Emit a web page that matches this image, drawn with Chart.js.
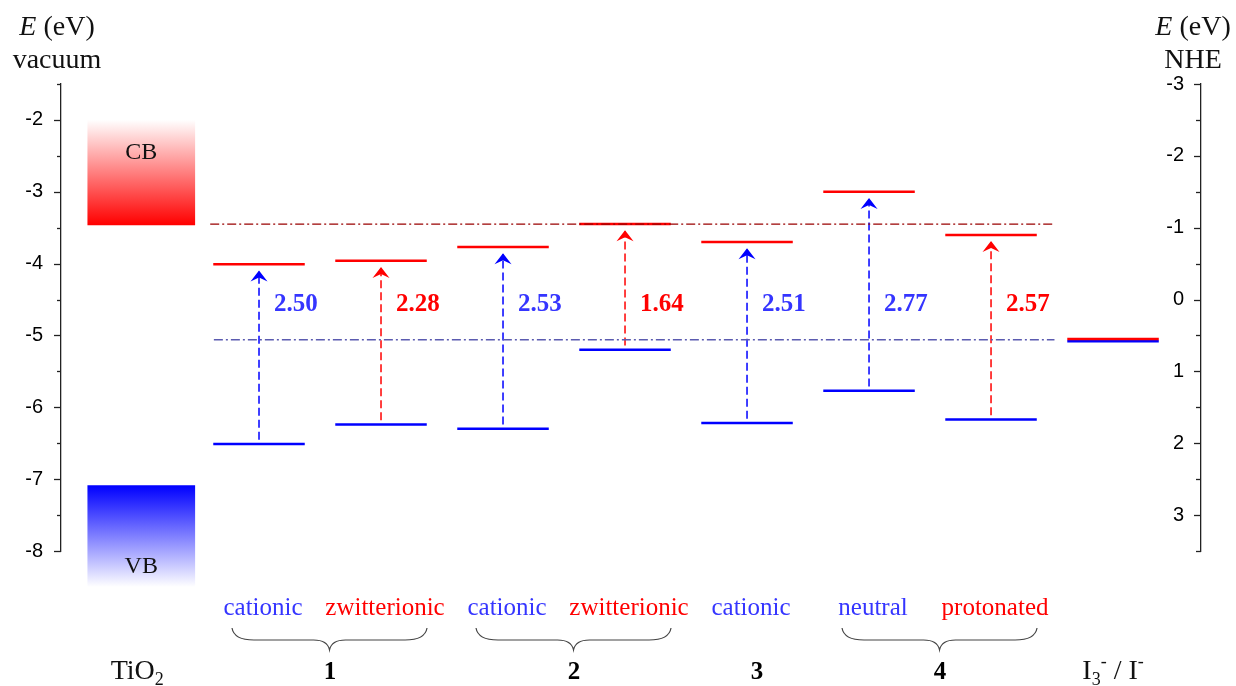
<!DOCTYPE html>
<html>
<head>
<meta charset="utf-8">
<title>Energy levels vs TiO2 and I3-/I-</title>
<script src="https://cdn.jsdelivr.net/npm/chart.js@4.4.1/dist/chart.umd.min.js"></script>
<style>
    html, body { margin: 0; padding: 0; background: #fff; }
    #wrap { position: relative; width: 1236px; height: 686px; }
</style>
</head>
<body>
<div id="wrap"><canvas id="levels-chart"></canvas></div>
<script>
// ---- datos (eV vs vacío) ----
const forms = ["cationic", "zwitterionic", "cationic", "zwitterionic", "cationic", "neutral", "protonated"];
const lumo = [-4.01, -3.96, -3.77, -3.45, -3.70, -3.00, -3.60];
const homo = [-6.51, -6.24, -6.30, -5.20, -6.22, -5.77, -6.17];
const gaps = ["2.50", "2.28", "2.53", "1.64", "2.51", "2.77", "2.57"];
const compounds = ["1", "2", "3", "4"];
const compoundMembers = [[0, 1], [2, 3], [4], [5, 6]];
const tio2CB = [-2.0, -3.46];
const tio2VB = [-7.09, -8.5];
const redoxRed = -5.05;
const redoxBlue = -5.08;
const cbEdgeLine = -3.45;
const redoxLine = -5.06;
const vacuumTicks = [-2, -3, -4, -5, -6, -7, -8];
const nheTicks = [-3, -2, -1, 0, 1, 2, 3];

// ---- estilos ----
const BLUE = "#0000ff";
const RED = "#ff0000";
const BLUE_TXT = "#3535ff";
const SERIF = "'Liberation Serif', 'Times New Roman', serif";
const SANS = "'Liberation Sans', Arial, sans-serif";
const HALF = 0.375;          // media anchura de un nivel (unidades de columna)
const X_MIN = -0.623, X_MAX = 8.721;
const TIO2_X = 0.035, REDOX_X = 8;
const ARROW_TOP = 0.1, ARROW_BOTTOM = 0.06;

const isBlue = f => f === "cationic" || f === "neutral";
const lineColor = f => isBlue(f) ? BLUE : RED;
const textColor = f => isBlue(f) ? BLUE_TXT : RED;

function levelPoints(values) {
    const pts = [];
    values.forEach((v, i) => {
        const x = i + 1;
        pts.push({ x: x - HALF, y: v }, { x: x + HALF, y: v }, { x: x + 0.5, y: null });
    });
    return pts;
}

function arrowPoints(blue) {
    const pts = [];
    forms.forEach((f, i) => {
        if (isBlue(f) !== blue) return;
        const x = i + 1;
        pts.push({ x: x, y: homo[i] + ARROW_BOTTOM }, { x: x, y: lumo[i] - ARROW_TOP }, { x: x + 0.1, y: null });
    });
    return pts;
}

function gradientFill(top, bottom, topColor, bottomColor) {
    return function (context) {
        const chart = context.chart;
        if (!chart.chartArea) return bottomColor;
        const y = chart.scales.y;
        const g = chart.ctx.createLinearGradient(0, y.getPixelForValue(top), 0, y.getPixelForValue(bottom));
        g.addColorStop(0, topColor);
        g.addColorStop(1, bottomColor);
        return g;
    };
}

const lineBase = { type: "line", pointRadius: 0, pointHoverRadius: 0, tension: 0, spanGaps: false, fill: false };

// ---- textos, flechas y marcas de los ejes ----
const annotations = {
    id: "levelAnnotations",
    afterDraw(chart) {
        const { ctx, chartArea: area, scales } = chart;
        const x = scales.x, y = scales.y, y2 = scales.y2;
        ctx.save();

        // marcas de los ejes (mayores y menores)
        ctx.strokeStyle = "#222";
        ctx.lineWidth = 1.3;
        const marks = (scale, axisX, values, len) => {
            values.forEach(v => {
                const py = Math.round(scale.getPixelForValue(v)) + 0.5;
                ctx.beginPath();
                ctx.moveTo(axisX - len, py);
                ctx.lineTo(axisX, py);
                ctx.stroke();
            });
        };
        marks(y, area.left, vacuumTicks, 7);
        marks(y, area.left, vacuumTicks.map(v => v + 0.5), 4);
        marks(y2, area.right, nheTicks, 7);
        marks(y2, area.right, nheTicks.map(v => v + 0.5), 5);

        // puntas de flecha
        forms.forEach((f, i) => {
            const px = x.getPixelForValue(i + 1);
            const py = y.getPixelForValue(lumo[i] - ARROW_TOP) - 1;
            ctx.fillStyle = lineColor(f);
            ctx.beginPath();
            ctx.moveTo(px, py);
            ctx.lineTo(px + 8.5, py + 11);
            ctx.lineTo(px, py + 7);
            ctx.lineTo(px - 8.5, py + 11);
            ctx.closePath();
            ctx.fill();
        });

        // band gaps
        ctx.font = "bold 25px " + SERIF;
        ctx.textAlign = "left";
        ctx.textBaseline = "alphabetic";
        gaps.forEach((g, i) => {
            ctx.fillStyle = textColor(forms[i]);
            ctx.fillText(g, x.getPixelForValue(i + 1) + 15, y.getPixelForValue(-4.55) + 8);
        });

        // CB / VB
        ctx.fillStyle = "#111";
        ctx.textAlign = "center";
        ctx.font = "24px " + SERIF;
        ctx.fillText("CB", x.getPixelForValue(TIO2_X), y.getPixelForValue(-2.54));
        ctx.fillText("VB", x.getPixelForValue(TIO2_X), y.getPixelForValue(-8.3));

        // formas debajo de cada columna
        ctx.font = "25px " + SERIF;
        forms.forEach((f, i) => {
            ctx.fillStyle = textColor(f);
            ctx.fillText(f, x.getPixelForValue(i + 1) + 4, area.bottom + 64);
        });

        // llaves y números de compuesto
        ctx.strokeStyle = "#444";
        ctx.lineWidth = 1.2;
        ctx.fillStyle = "#000";
        ctx.font = "bold 25px " + SERIF;
        compounds.forEach((c, k) => {
            const m = compoundMembers[k];
            const a = m[0] + 1, b = m[m.length - 1] + 1;
            const cx = x.getPixelForValue((a + b) / 2) + 10;
            if (m.length > 1) {
                const x0 = x.getPixelForValue(a) - 27, x1 = x.getPixelForValue(b) + 46;
                const top = area.bottom + 77, h = top + 12, tip = top + 22, mid = (x0 + x1) / 2;
                ctx.beginPath();
                ctx.moveTo(x0, top);
                ctx.quadraticCurveTo(x0 + 2, h, x0 + 22, h);
                ctx.lineTo(mid - 16, h);
                ctx.quadraticCurveTo(mid - 2, h, mid, tip);
                ctx.quadraticCurveTo(mid + 2, h, mid + 16, h);
                ctx.lineTo(x1 - 22, h);
                ctx.quadraticCurveTo(x1 - 2, h, x1, top);
                ctx.stroke();
            }
            ctx.fillText(c, cx, area.bottom + 128);
        });

        // TiO2 y I3- / I-
        const base = area.bottom + 128;
        ctx.textAlign = "left";
        const seq = (cx, parts) => {
            let w = 0;
            parts.forEach(p => { ctx.font = p.f; w += ctx.measureText(p.t).width; });
            let px = cx - w / 2;
            parts.forEach(p => {
                ctx.font = p.f;
                ctx.fillText(p.t, px, base + (p.dy || 0));
                px += ctx.measureText(p.t).width;
            });
        };
        ctx.fillStyle = "#111";
        seq(x.getPixelForValue(TIO2_X) - 4, [
            { t: "TiO", f: "28px " + SERIF },
            { t: "2", f: "18px " + SERIF, dy: 6 }
        ]);
        seq(x.getPixelForValue(REDOX_X), [
            { t: "I", f: "28px " + SERIF },
            { t: "3", f: "18px " + SERIF, dy: 6 },
            { t: "-", f: "18px " + SERIF, dy: -12 },
            { t: " / I", f: "28px " + SERIF },
            { t: "-", f: "18px " + SERIF, dy: -12 }
        ]);

        // títulos de los ejes
        const title = (cx, baseline, second) => {
            const it = "italic 28px " + SERIF, rg = "28px " + SERIF;
            ctx.font = it; const wE = ctx.measureText("E").width;
            ctx.font = rg; const wR = ctx.measureText(" (eV)").width;
            const x0 = cx - (wE + wR) / 2;
            ctx.textAlign = "left";
            ctx.font = it; ctx.fillText("E", x0, baseline);
            ctx.font = rg; ctx.fillText(" (eV)", x0 + wE, baseline);
            ctx.textAlign = "center";
            ctx.fillText(second, cx, baseline + 33);
        };
        title(57, 35, "vacuum");
        title(1193, 35, "NHE");

        ctx.restore();
    }
};

document.addEventListener("DOMContentLoaded", function () {
    const redLevels = levelPoints(lumo);
    redLevels.push({ x: REDOX_X - HALF, y: redoxRed }, { x: REDOX_X + HALF, y: redoxRed });
    const blueLevels = levelPoints(homo);
    blueLevels.push({ x: REDOX_X - HALF, y: redoxBlue }, { x: REDOX_X + HALF, y: redoxBlue });

    new Chart(document.getElementById("levels-chart"), {
        type: "line",
        data: {
            datasets: [
                Object.assign({}, lineBase, {
                    label: "TiO2 CB edge",
                    data: [{ x: 0.6, y: cbEdgeLine }, { x: 7.52, y: cbEdgeLine }],
                    borderColor: "#990000", borderWidth: 1.4, borderDash: [9, 3, 2, 3]
                }),
                Object.assign({}, lineBase, {
                    label: "I3-/I- level",
                    data: [{ x: 0.63, y: redoxLine }, { x: 7.52, y: redoxLine }],
                    borderColor: "#5b5bb0", borderWidth: 1.4, borderDash: [9, 3, 2, 3]
                }),
                Object.assign({}, lineBase, {
                    label: "LUMO", data: redLevels, borderColor: RED, borderWidth: 2.5
                }),
                Object.assign({}, lineBase, {
                    label: "HOMO", data: blueLevels, borderColor: BLUE, borderWidth: 2.5
                }),
                Object.assign({}, lineBase, {
                    label: "gap (blue)", data: arrowPoints(true), borderColor: BLUE, borderWidth: 1.5, borderDash: [8, 4]
                }),
                Object.assign({}, lineBase, {
                    label: "gap (red)", data: arrowPoints(false), borderColor: RED, borderWidth: 1.5, borderDash: [8, 4]
                }),
                {
                    type: "bar", label: "TiO2 CB",
                    data: [{ x: TIO2_X, y: tio2CB }],
                    backgroundColor: gradientFill(tio2CB[0], tio2CB[1], "rgba(255,255,255,1)", RED),
                    barThickness: 107, borderWidth: 0, grouped: false, clip: false
                },
                {
                    type: "bar", label: "TiO2 VB",
                    data: [{ x: TIO2_X, y: tio2VB }],
                    backgroundColor: gradientFill(tio2VB[0], tio2VB[1], BLUE, "rgba(255,255,255,1)"),
                    barThickness: 107, borderWidth: 0, grouped: false, clip: false
                }
            ]
        },
        options: {
            responsive: true,
            maintainAspectRatio: false,
            animation: false,
            events: [],
            layout: { padding: { top: 84, bottom: 135, left: 0, right: 0 } },
            plugins: {
                legend: { display: false },
                tooltip: { enabled: false }
            },
            scales: {
                x: { type: "linear", display: false, min: X_MIN, max: X_MAX, offset: false },
                y: {
                    type: "linear",
                    position: "left",
                    min: -8,
                    max: -1.5,
                    afterFit: function (scale) { scale.width = 61; },
                    afterBuildTicks: function (scale) {
                        scale.ticks = vacuumTicks.slice().sort((a, b) => a - b).map(v => ({ value: v }));
                    },
                    grid: { display: false, drawTicks: false },
                    border: { display: true, color: "#222", width: 1.3 },
                    ticks: { color: "#000", padding: 18, autoSkip: false, font: { family: SANS, size: 20 } }
                },
                y2: {
                    type: "linear",
                    position: "right",
                    reverse: true,
                    min: -3,
                    max: 3.5,
                    afterFit: function (scale) { scale.width = 35; },
                    afterBuildTicks: function (scale) {
                        scale.ticks = nheTicks.map(v => ({ value: v }));
                    },
                    grid: { display: false, drawTicks: false },
                    border: { display: true, color: "#222", width: 1.3 },
                    ticks: { color: "#000", mirror: true, padding: -17, autoSkip: false, font: { family: SANS, size: 20 } }
                }
            }
        },
        plugins: [annotations]
    });
});
</script>
</body>
</html>
